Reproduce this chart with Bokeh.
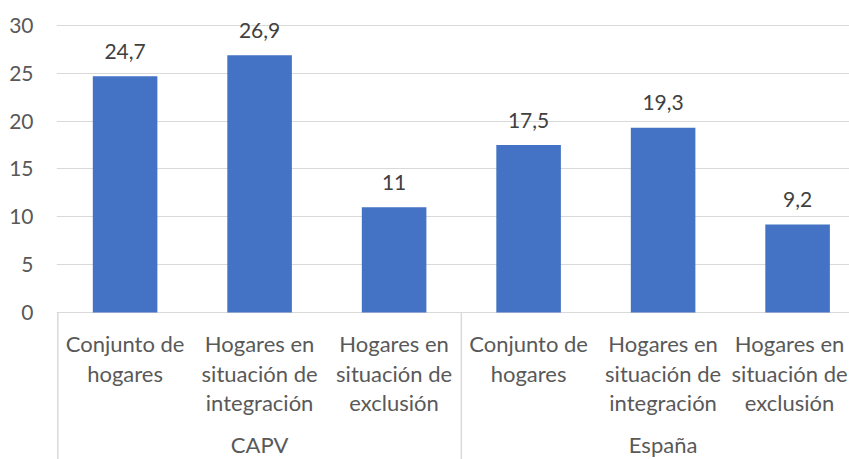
from bokeh.plotting import figure
from bokeh.models import Range1d, FixedTicker, ColumnDataSource
from bokeh.core.properties import value
from bokeh.embed import file_html
from bokeh.resources import INLINE

# Data: share of households (%) by household type, CAPV vs España
groups = ["CAPV", "España"]
categories = [
    "Conjunto de\nhogares",
    "Hogares en\nsituación de\nintegración",
    "Hogares en\nsituación de\nexclusión",
]
capv_values = [24.7, 26.9, 11.0]
espana_values = [17.5, 19.3, 9.2]
value_labels = ["24,7", "26,9", "11", "17,5", "19,3", "9,2"]
y_ticks = [0, 5, 10, 15, 20, 25, 30]

BAR = "#4472C4"
GRID = "#d9d9d9"
AXIS_TEXT = "#595959"
LABEL_TEXT = "#404040"
FONT = "Lato"

W, H = 849, 459
LEFT = 56
PX_PER_CAT = 134.5
PX_PER_UNIT = 9.567
ZERO_PX = 312  # pixel row of y = 0

x0 = -0.01
x1 = x0 + (W - LEFT) / PX_PER_CAT
y1 = ZERO_PX / PX_PER_UNIT
y0 = -(H - ZERO_PX) / PX_PER_UNIT

p = figure(width=W, height=H, output_backend="svg", toolbar_location=None,
           x_range=Range1d(x0, x1), y_range=Range1d(y0, y1),
           x_axis_location=None, min_border_left=LEFT, min_border_right=0,
           min_border_top=0, min_border_bottom=0)
p.outline_line_color = None
p.background_fill_color = "white"
p.border_fill_color = "white"
p.xgrid.visible = False

# y axis: labels only, gridlines at every 5
p.yaxis.ticker = FixedTicker(ticks=y_ticks)
p.yaxis.axis_line_color = None
p.yaxis.major_tick_line_color = None
p.yaxis.minor_tick_line_color = None
p.yaxis.major_tick_out = 0
p.yaxis.major_label_standoff = 23
p.yaxis.major_label_text_font = FONT
p.yaxis.major_label_text_font_size = "21px"
p.yaxis.major_label_text_color = AXIS_TEXT
p.ygrid.ticker = FixedTicker(ticks=y_ticks)
p.ygrid.grid_line_color = GRID
p.ygrid.grid_line_width = 1

# bars
values = capv_values + espana_values
xs = [i + 0.5 for i in range(len(values))]
src = ColumnDataSource(dict(x=xs, top=values, label=value_labels))
p.vbar(x="x", top="top", bottom=0, width=0.48, source=src,
       fill_color=BAR, line_color=None)

# value labels above bars
p.text(x="x", y="top", text="label", source=src, y_offset=-25,
       text_align="center", text_baseline="middle",
       text_font=value(FONT), text_font_size="21px", text_color=LABEL_TEXT)

# category axis: separators between groups
n_cat = len(categories)
sep_x = [g * n_cat for g in range(len(groups) + 1)]
p.segment(x0=sep_x, y0=[0] * len(sep_x), x1=sep_x, y1=[y0] * len(sep_x),
          line_color=GRID, line_width=1.5)

# category labels (one row per text line); the last column is nudged
# left so its lines stay inside the canvas
n_total = len(groups) * n_cat
lx, ly, lt, lyoff, lxoff = [], [], [], [], []
for g in range(len(groups)):
    for c, cat in enumerate(categories):
        idx = g * n_cat + c
        for k, line in enumerate(cat.split("\n")):
            lx.append(idx + 0.5)
            ly.append(0)
            lt.append(line)
            lyoff.append(31 + k * 29.5)
            lxoff.append(-8 if idx == n_total - 1 else 0)
p.text(x=lx, y=ly, text=lt, x_offset=lxoff, y_offset=lyoff,
       text_align="center", text_baseline="middle",
       text_font=value(FONT), text_font_size="22px", text_color=AXIS_TEXT)

# group labels
gx = [g * n_cat + n_cat / 2 for g in range(len(groups))]
p.text(x=gx, y=[0] * len(groups), text=groups, y_offset=132,
       text_align="center", text_baseline="middle",
       text_font=value(FONT), text_font_size="22px", text_color=AXIS_TEXT)

open("out.html", "w").write(file_html(p, INLINE))
